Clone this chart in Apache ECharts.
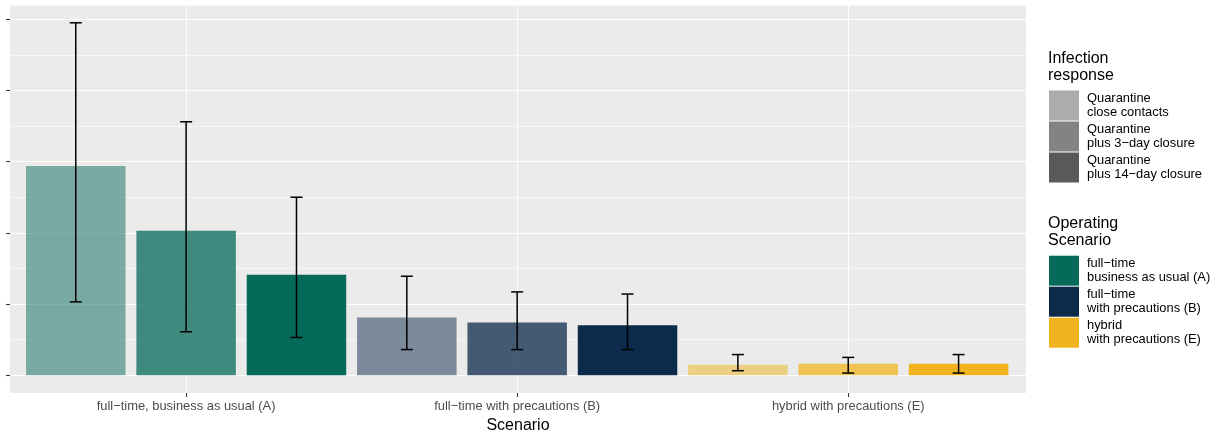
<!DOCTYPE html>
<html>
<head>
<meta charset="utf-8">
<script src="https://cdn.jsdelivr.net/npm/echarts@6/dist/echarts.min.js"></script>
<style>
  html, body { margin: 0; padding: 0; background: #ffffff; }
  #chart { width: 1219px; height: 432px; }
</style>
</head>
<body>
<div id="chart"></div>
<script>
// ---------- data ----------
const categories = ['full\u2212time, business as usual (A)', 'full\u2212time with precautions (B)', 'hybrid with precautions (E)'];
const scenarioNames = ['full\u2212time\nbusiness as usual (A)', 'full\u2212time\nwith precautions (B)', 'hybrid\nwith precautions (E)'];
const responseNames = ['Quarantine\nclose contacts', 'Quarantine\nplus 3\u2212day closure', 'Quarantine\nplus 14\u2212day closure'];

// mean per scenario, one value per infection response (close contacts, 3-day, 14-day)
const meanA = [2.94, 2.03, 1.41];
const meanB = [0.81, 0.74, 0.70];
const meanE = [0.147, 0.16, 0.16];
const lowA = [1.03, 0.61, 0.53];
const highA = [4.95, 3.56, 2.50];
const lowB = [0.36, 0.36, 0.36];
const highB = [1.39, 1.17, 1.14];
const lowE = [0.063, 0.03, 0.03];
const highE = [0.29, 0.25, 0.29];

const yTicks = [0, 1, 2, 3, 4, 5];
const xTicks = [0, 1, 2];

const scenarioColors = ['#066A5B', '#0C2A4A', '#F0B41E'];
const responseAlpha = [0.5, 0.75, 1];
const legendGrey = '89,89,89';

// ---------- build ----------
const means = [meanA, meanB, meanE];
const lows = [lowA, lowB, lowE];
const highs = [highA, highB, highE];
const barData = [];
const errData = [];
means.forEach((arr, g) => {
  arr.forEach((v, r) => {
    const x = g + (r - 1) / 3; // dodge position
    barData.push({ value: [x, v], itemStyle: { color: scenarioColors[g], opacity: responseAlpha[r] } });
    errData.push([x, lows[g][r], highs[g][r]]);
  });
});

const FONT = "'Liberation Sans', Arial, Helvetica, sans-serif";

const graphics = [];
function legendBlock(title, titleTop, keysTop, names, colorFn) {
  graphics.push({ type: 'text', left: 1048, top: titleTop, style: { text: title, font: '16px ' + FONT, fill: '#000', lineHeight: 17 } });
  names.forEach((n, i) => {
    const y = keysTop + i * 31;
    graphics.push({ type: 'rect', shape: { x: 1049, y: y, width: 30, height: 30 }, style: { fill: colorFn(i) } });
    graphics.push({ type: 'text', x: 1087, y: y + 15, style: { text: n, font: '12.9px ' + FONT, fill: '#000', verticalAlign: 'middle', lineHeight: 14.5 } });
  });
}
legendBlock('Infection\nresponse', 50, 90.5, responseNames, i => 'rgba(' + legendGrey + ',' + responseAlpha[i] + ')');
legendBlock('Operating\nScenario', 215, 255.7, scenarioNames, i => scenarioColors[i]);

const chart = echarts.init(document.getElementById('chart'), null, { renderer: 'canvas' });
chart.setOption({
  animation: false,
  backgroundColor: '#ffffff',
  textStyle: { fontFamily: FONT },
  grid: { left: 10, top: 5, width: 1016, height: 388, show: true, backgroundColor: '#EBEBEB', borderWidth: 0, containLabel: false, outerBoundsMode: 'none' },
  xAxis: {
    type: 'value', min: -0.532, max: 2.537, minInterval: 1, maxInterval: 1,
    axisLine: { show: false, onZero: false },
    axisTick: { show: true, customValues: xTicks, length: 4, lineStyle: { color: '#333333', width: 1.07 } },
    axisLabel: { customValues: xTicks, formatter: v => categories[Math.round(v)], color: '#4D4D4D', fontSize: 12.9, margin: 7, fontFamily: FONT },
    splitLine: { show: true, lineStyle: { color: '#ffffff', width: 1.07 } },
    name: 'Scenario', nameLocation: 'middle', nameGap: 22,
    nameTextStyle: { color: '#000000', fontSize: 16, fontFamily: FONT }
  },
  yAxis: [
    {
      type: 'value', min: -0.25, max: 5.2, minInterval: 1, maxInterval: 1,
      axisLine: { show: false, onZero: false },
      axisTick: { show: true, customValues: yTicks, length: 4, lineStyle: { color: '#333333', width: 1.07 } },
      axisLabel: { show: false },
      splitLine: { show: true, lineStyle: { color: '#ffffff', width: 1.07 } }
    },
    {
      type: 'value', min: -0.25, max: 5.2, minInterval: 0.5, maxInterval: 0.5, position: 'left',
      axisLine: { show: false, onZero: false }, axisTick: { show: false }, axisLabel: { show: false },
      splitLine: { show: true, lineStyle: { color: '#ffffff', width: 0.55 } }
    }
  ],
  series: [
    { type: 'bar', yAxisIndex: 0, barWidth: 99.5, data: barData, z: 2 },
    {
      type: 'custom', yAxisIndex: 0, z: 3,
      encode: { x: 0, y: [1, 2] },
      data: errData,
      renderItem: function (params, api) {
        const x = api.value(0);
        const top = api.coord([x, api.value(2)]);
        const bot = api.coord([x, api.value(1)]);
        const hw = 6;
        const st = { stroke: '#000000', lineWidth: 1.5 };
        return {
          type: 'group',
          children: [
            { type: 'line', shape: { x1: top[0], y1: top[1], x2: bot[0], y2: bot[1] }, style: st },
            { type: 'line', shape: { x1: top[0] - hw, y1: top[1], x2: top[0] + hw, y2: top[1] }, style: st },
            { type: 'line', shape: { x1: bot[0] - hw, y1: bot[1], x2: bot[0] + hw, y2: bot[1] }, style: st }
          ]
        };
      }
    }
  ],
  graphic: graphics
});
</script>
</body>
</html>
